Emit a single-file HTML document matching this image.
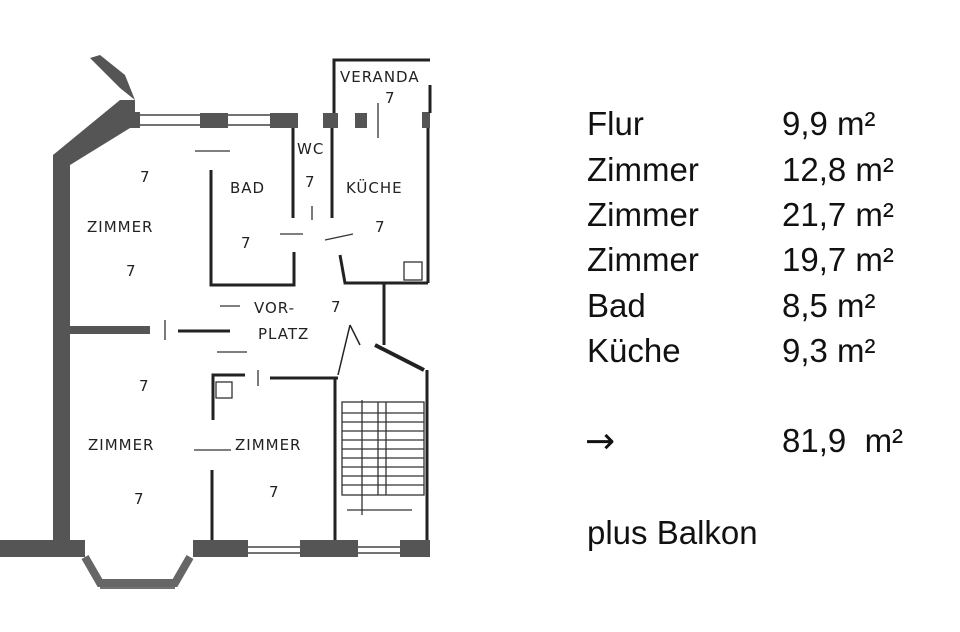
<!DOCTYPE html>
<html><head><meta charset="utf-8"><style>
html,body{margin:0;padding:0;background:#fff;width:960px;height:632px;overflow:hidden}
svg{position:absolute;left:0;top:0}
.t{font-family:"Liberation Sans",sans-serif;font-size:33px;fill:#111}
.l{font-family:"DejaVu Sans",sans-serif;font-size:15px;fill:#222;letter-spacing:1px}
</style></head><body>
<svg width="960" height="632" viewBox="0 0 960 632">
<g fill="#555" stroke="none">
<rect x="53" y="155" width="17" height="390"/>
<polygon points="53,155 70,160 135,118 135,100 120,88 90,58 100,55 125,75 135,100"/>
<polygon points="53,155 120,100 135,100 135,125 70,165"/>
<rect x="128" y="112" width="12" height="16"/>
<rect x="200" y="113" width="28" height="15"/>
<rect x="270" y="113" width="28" height="15"/>
<rect x="323" y="113" width="15" height="15"/>
<rect x="355" y="113" width="12" height="15"/>
<rect x="422" y="112" width="8" height="16"/>
<rect x="0" y="540" width="85" height="17"/>
<rect x="193" y="540" width="55" height="17"/>
<rect x="300" y="540" width="58" height="17"/>
<rect x="400" y="540" width="30" height="17"/>
<rect x="70" y="326" width="80" height="8"/>
</g>
<g stroke="#444" fill="none" stroke-width="1.5">
<line x1="140" y1="115" x2="200" y2="115"/><line x1="140" y1="125" x2="200" y2="125"/>
<line x1="228" y1="115" x2="270" y2="115"/><line x1="228" y1="125" x2="270" y2="125"/>
<line x1="248" y1="547" x2="300" y2="547"/><line x1="248" y1="553" x2="300" y2="553"/>
<line x1="358" y1="547" x2="400" y2="547"/><line x1="358" y1="553" x2="400" y2="553"/>
<polyline points="85,557 100,583 175,583 190,557" stroke-width="8" stroke="#666"/>
<line x1="100" y1="588" x2="175" y2="588"/>
</g>
<g stroke="#222" fill="none" stroke-width="3">
<polyline points="334,113 334,60 430,60"/>
<line x1="430" y1="85" x2="430" y2="113" />
<line x1="428" y1="128" x2="428" y2="283"/>
<polyline points="428,283 345,283 340,255"/>
<line x1="384" y1="283" x2="384" y2="345"/>
<polyline points="211,170 211,285 294,285 294,252"/>
<line x1="293" y1="128" x2="293" y2="218"/>
<line x1="332" y1="128" x2="332" y2="218"/>
<line x1="178" y1="331" x2="230" y2="331"/>
<polyline points="213,420 213,375 245,375"/>
<line x1="270" y1="378" x2="338" y2="378"/>
<line x1="212" y1="470" x2="212" y2="540"/>
<line x1="335" y1="378" x2="335" y2="540"/>
<line x1="427" y1="370" x2="427" y2="540"/>
<line x1="375" y1="345" x2="424" y2="370" stroke-width="4"/>
<line x1="338" y1="375" x2="350" y2="325" stroke-width="1.5"/>
<line x1="350" y1="325" x2="360" y2="345" stroke-width="1.5"/>
</g>
<g stroke="#333" stroke-width="1.3" fill="none">
<line x1="195" y1="151" x2="230" y2="151"/>
<line x1="280" y1="234" x2="303" y2="234"/>
<line x1="325" y1="240" x2="353" y2="234"/>
<line x1="220" y1="306" x2="240" y2="306"/>
<line x1="217" y1="352" x2="247" y2="352"/>
<line x1="194" y1="450" x2="231" y2="450"/>
<line x1="165" y1="320" x2="165" y2="340"/>
<line x1="312" y1="206" x2="312" y2="220"/>
<line x1="258" y1="370" x2="258" y2="386"/>
<line x1="378" y1="103" x2="378" y2="138"/>
<rect x="342" y="402" width="82" height="93"/>
<line x1="378" y1="402" x2="378" y2="495"/>
<line x1="386" y1="402" x2="386" y2="495"/>
<line x1="362" y1="400" x2="362" y2="515"/>
<line x1="347" y1="510" x2="412" y2="510"/>
<path d="M342 413H424M342 422H424M342 431H424M342 440H424M342 449H424M342 458H424M342 467H424M342 476H424M342 485H424"/>
<rect x="216" y="382" width="16" height="16"/>
<rect x="404" y="262" width="18" height="18"/>
</g>
<g class="l">
<text x="340" y="82">VERANDA</text>
<text x="385" y="103">7</text>
<text x="297" y="154">WC</text>
<text x="305" y="187">7</text>
<text x="230" y="193">BAD</text>
<text x="346" y="193">KÜCHE</text>
<text x="140" y="182">7</text>
<text x="87" y="232">ZIMMER</text>
<text x="126" y="276">7</text>
<text x="241" y="248">7</text>
<text x="375" y="232">7</text>
<text x="254" y="313">VOR-</text>
<text x="258" y="339">PLATZ</text>
<text x="331" y="312">7</text>
<text x="139" y="391">7</text>
<text x="88" y="450">ZIMMER</text>
<text x="235" y="450">ZIMMER</text>
<text x="134" y="504">7</text>
<text x="269" y="497">7</text>
</g>
<g class="t">
<text x="587" y="135">Flur</text><text x="782" y="135">9,9 m²</text>
<text x="587" y="181">Zimmer</text><text x="782" y="181">12,8 m²</text>
<text x="587" y="226">Zimmer</text><text x="782" y="226">21,7 m²</text>
<text x="587" y="271">Zimmer</text><text x="782" y="271">19,7 m²</text>
<text x="587" y="317">Bad</text><text x="782" y="317">8,5 m²</text>
<text x="587" y="362">Küche</text><text x="782" y="362">9,3 m²</text>
<text x="585" y="453" style="font-family:'DejaVu Sans',sans-serif;font-size:36px">→</text><text x="782" y="452">81,9&#160; m²</text>
<text x="587" y="544">plus Balkon</text>
</g>
</svg>
</body></html>
